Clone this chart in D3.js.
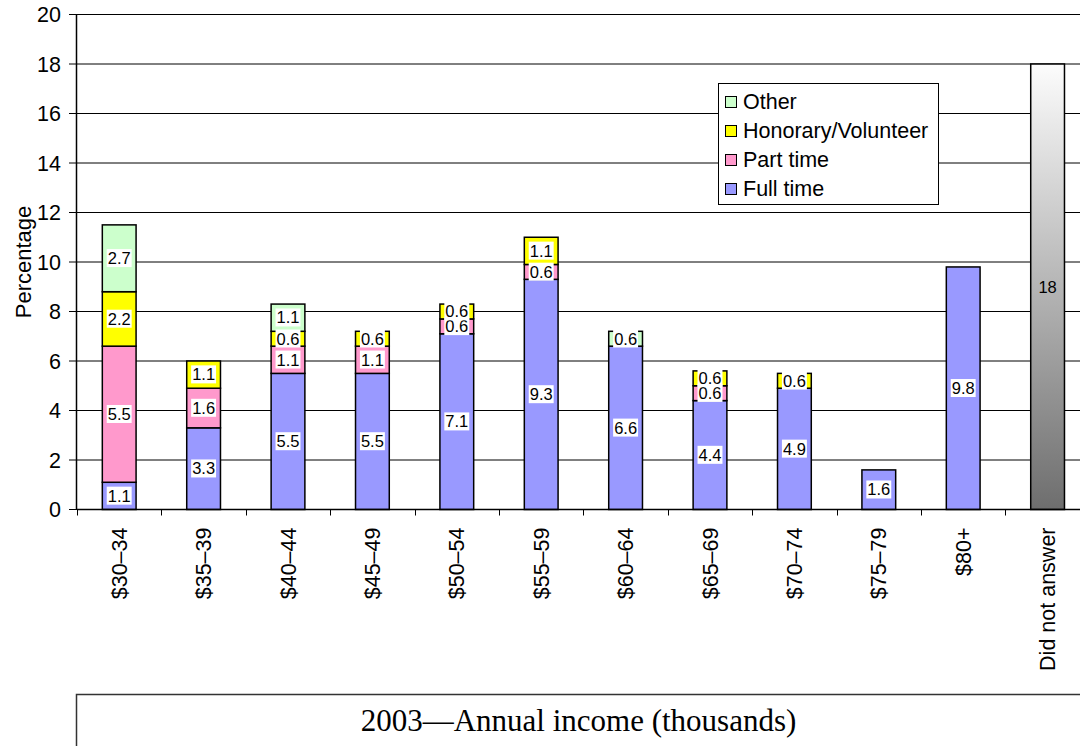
<!DOCTYPE html>
<html>
<head>
<meta charset="utf-8">
<title></title>
<script src="https://d3js.org/d3.v7.min.js"></script>
<style>
    * { margin: 0; padding: 0; }
    body { background: #fff; }
    svg { display: block; font-family: "Liberation Sans", Arial, sans-serif; }
</style>
</head>
<body>
<div id="chart"></div>
<script>
// data
var categories = ["$30\u201334", "$35\u201339", "$40\u201344", "$45\u201349", "$50\u201354", "$55\u201359",
    "$60\u201364", "$65\u201369", "$70\u201374", "$75\u201379", "$80+", "Did not answer"];
var fullTime = [1.1, 3.3, 5.5, 5.5, 7.1, 9.3, 6.6, 4.4, 4.9, 1.6, 9.8, 0];
var partTime = [5.5, 1.6, 1.1, 1.1, 0.6, 0.6, 0, 0.6, 0, 0, 0, 0];
var honorary = [2.2, 1.1, 0.6, 0.6, 0.6, 1.1, 0, 0.6, 0.6, 0, 0, 0];
var other = [2.7, 0, 1.1, 0, 0, 0, 0.6, 0, 0, 0, 0, 0];
var didNotAnswer = [0, 0, 0, 0, 0, 0, 0, 0, 0, 0, 0, 18];
var yTicks = [0, 2, 4, 6, 8, 10, 12, 14, 16, 18, 20];
var seriesNames = ["Full time", "Part time", "Honorary/Volunteer", "Other"];
var seriesColors = ["#9999ff", "#ff99cc", "#ffff00", "#ccffcc"];
var xTitle = "2003\u2014Annual income (thousands)";
var yTitle = "Percentage";

var W = 1080, H = 746;
var left = 77;
var step = 84.4;
var axisFont = "21.5px";

var svg = d3.select("#chart").append("svg")
    .attr("width", W)
    .attr("height", H);

var x = d3.scaleBand()
    .domain(categories)
    .range([left, left + step * categories.length])
    .paddingInner(0.6)
    .paddingOuter(0.3);

var y = d3.scaleLinear()
    .domain([0, 20])
    .range([509.5, 14.5]);

var y0 = y(0);

// gradient for the "did not answer" bar
var grad = svg.append("defs").append("linearGradient")
    .attr("id", "grayGrad")
    .attr("x1", 0).attr("y1", 0).attr("x2", 0).attr("y2", 1);
grad.append("stop").attr("offset", "0%").attr("stop-color", "#fcfcfc");
grad.append("stop").attr("offset", "100%").attr("stop-color", "#6e6e6e");

// gridlines
svg.append("g")
    .selectAll("line")
    .data(yTicks.filter(function (t) { return t > 0; }))
    .enter().append("line")
    .attr("x1", left).attr("x2", W)
    .attr("y1", function (d) { return y(d); })
    .attr("y2", function (d) { return y(d); })
    .attr("stroke", "#000")
    .attr("stroke-width", 1);

// stacked bars
var table = categories.map(function (c, i) {
    return { cat: c, "Full time": fullTime[i], "Part time": partTime[i],
        "Honorary/Volunteer": honorary[i], "Other": other[i] };
});
var stacked = d3.stack().keys(seriesNames)(table);

svg.append("g")
    .selectAll("g")
    .data(stacked)
    .enter().append("g")
    .attr("fill", function (d, i) { return seriesColors[i]; })
    .selectAll("rect")
    .data(function (d) { return d.filter(function (s) { return s[1] - s[0] > 0; }); })
    .enter().append("rect")
    .attr("x", function (d) { return x(d.data.cat); })
    .attr("y", function (d) { return y(d[1]); })
    .attr("width", x.bandwidth())
    .attr("height", function (d) { return y(d[0]) - y(d[1]); })
    .attr("stroke", "#000")
    .attr("stroke-width", 1.5);

// did not answer bar
var dna = categories.map(function (c, i) { return { cat: c, v: didNotAnswer[i] }; })
    .filter(function (d) { return d.v > 0; });
svg.append("g")
    .selectAll("rect")
    .data(dna)
    .enter().append("rect")
    .attr("x", function (d) { return x(d.cat); })
    .attr("y", function (d) { return y(d.v); })
    .attr("width", x.bandwidth())
    .attr("height", function (d) { return y0 - y(d.v); })
    .attr("fill", "url(#grayGrad)")
    .attr("stroke", "#000")
    .attr("stroke-width", 1.5);

svg.append("g")
    .selectAll("text")
    .data(dna)
    .enter().append("text")
    .attr("x", function (d) { return x(d.cat) + x.bandwidth() / 2; })
    .attr("y", function (d) { return y(d.v / 2); })
    .attr("dy", "0.35em")
    .attr("text-anchor", "middle")
    .style("font-size", "16.5px")
    .text(function (d) { return d.v; });

// value labels with white boxes
stacked.forEach(function (layer) {
    layer.forEach(function (s) {
        var v = s[1] - s[0];
        if (v <= 0) return;
        var g = svg.append("g")
            .attr("transform", "translate(" + (x(s.data.cat) + x.bandwidth() / 2) + "," + y((s[0] + s[1]) / 2) + ")");
        var t = g.append("text")
            .attr("text-anchor", "middle")
            .attr("dy", "0.35em")
            .style("font-size", "16.5px")
            .text(d3.format(".1f")(v));
        var b = t.node().getBBox();
        g.insert("rect", "text")
            .attr("x", b.x - 1)
            .attr("y", b.y)
            .attr("width", b.width + 2)
            .attr("height", b.height)
            .attr("fill", "#fff");
    });
});

// x axis
svg.append("line")
    .attr("x1", left).attr("x2", W)
    .attr("y1", y0).attr("y2", y0)
    .attr("stroke", "#000").attr("stroke-width", 1.5);

svg.append("g")
    .selectAll("line")
    .data(d3.range(categories.length + 1))
    .enter().append("line")
    .attr("x1", function (i) { return Math.round(left + i * x.step()) + 0.5; })
    .attr("x2", function (i) { return Math.round(left + i * x.step()) + 0.5; })
    .attr("y1", y0).attr("y2", y0 + 6)
    .attr("stroke", "#000");

svg.append("g")
    .selectAll("text")
    .data(categories)
    .enter().append("text")
    .attr("transform", function (d) {
        return "translate(" + (x(d) + x.bandwidth() / 2) + "," + (y0 + 18) + ") rotate(-90)";
    })
    .attr("dy", "0.35em")
    .attr("text-anchor", "end")
    .style("font-size", axisFont)
    .text(function (d) { return d; });

// y axis
svg.append("line")
    .attr("x1", left - 0.5).attr("x2", left - 0.5)
    .attr("y1", y(20)).attr("y2", y0)
    .attr("stroke", "#000").attr("stroke-width", 1.5);

svg.append("g")
    .selectAll("line")
    .data(yTicks)
    .enter().append("line")
    .attr("x1", left - 8).attr("x2", left)
    .attr("y1", function (d) { return y(d); })
    .attr("y2", function (d) { return y(d); })
    .attr("stroke", "#000");

svg.append("g")
    .selectAll("text")
    .data(yTicks)
    .enter().append("text")
    .attr("x", 61)
    .attr("y", function (d) { return y(d); })
    .attr("dy", "0.35em")
    .attr("text-anchor", "end")
    .style("font-size", axisFont)
    .text(function (d) { return d; });

svg.append("text")
    .attr("transform", "translate(31," + y(10) + ") rotate(-90)")
    .attr("text-anchor", "middle")
    .style("font-size", "22px")
    .text(yTitle);

// legend
var legend = svg.append("g");
legend.append("rect")
    .attr("x", 718.5).attr("y", 83.5)
    .attr("width", 220).attr("height", 121)
    .attr("fill", "#fff").attr("stroke", "#000");

var legendOrder = [3, 2, 1, 0];
legendOrder.forEach(function (si, k) {
    var cy = 101.5 + k * 29;
    legend.append("rect")
        .attr("x", 725.5).attr("y", Math.round(cy - 6) + 0.5)
        .attr("width", 11).attr("height", 11)
        .attr("fill", seriesColors[si])
        .attr("stroke", "#000");
    legend.append("text")
        .attr("x", 743)
        .attr("y", cy)
        .attr("dy", "0.35em")
        .style("font-size", axisFont)
        .text(seriesNames[si]);
});

// bottom title box
svg.append("rect")
    .attr("x", left - 0.5).attr("y", 694.5)
    .attr("width", W).attr("height", 100)
    .attr("fill", "none").attr("stroke", "#333").attr("stroke-width", 1.5);

svg.append("text")
    .attr("x", (left + W) / 2)
    .attr("y", 731)
    .attr("text-anchor", "middle")
    .style("font-family", "'Liberation Serif', 'Times New Roman', serif")
    .style("font-size", "31px")
    .text(xTitle);
</script>
</body>
</html>
